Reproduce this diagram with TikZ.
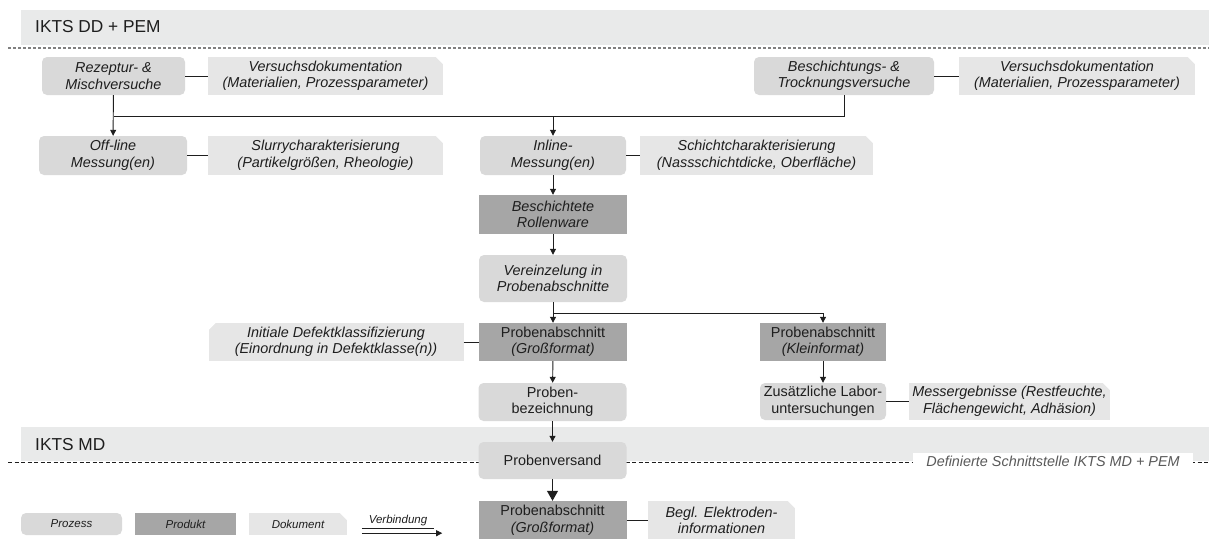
\documentclass[tikz,border=0pt]{standalone}
\usepackage{fontspec}
\setmainfont{Liberation Sans}
\usetikzlibrary{arrows.meta,positioning,calc}
\definecolor{ktsProc}{RGB}{217,217,217}
\definecolor{ktsProd}{RGB}{166,166,166}
\definecolor{ktsDoc}{RGB}{230,230,230}
\definecolor{ktsBand}{RGB}{233,234,234}
\definecolor{ktsText}{RGB}{30,30,30}
\definecolor{ktsLine}{RGB}{30,30,30}
\definecolor{ktsIface}{RGB}{90,90,90}

\begin{document}
\begin{tikzpicture}[x=1pt,y=-1pt,>={Triangle[length=6pt,width=6pt]},
  every node/.style={font=\fontsize{14.4}{16.5}\selectfont,text=ktsText,align=center,inner sep=0pt},
  itl/.style={font=\fontsize{14.4}{16.5}\selectfont\itshape},
  small/.style={font=\fontsize{11.5}{13}\selectfont\itshape},
  proc/.style={fill=ktsProc,rounded corners=5pt,minimum width=148pt,minimum height=39pt},
  prod/.style={fill=ktsProd,minimum width=148pt,minimum height=39pt},
  doc/.style={fill=ktsDoc,minimum height=39pt},
  link/.style={draw=ktsLine,line width=0.95pt}]
\useasboundingbox (0,0) rectangle (1209,538);
\fill[ktsBand] (21,10) rectangle (1209,45);
\fill[ktsBand] (21,427) rectangle (1209,461);
\draw[gray,line width=1.2pt,dash pattern=on 3pt off 2pt] (8,48) -- (1209,48);
\draw[ktsLine,line width=0.9pt,dash pattern=on 4pt off 2.5pt] (8,462) -- (1209,462);
\node[anchor=west,font=\fontsize{17.3}{20}\selectfont] (ddlab) at (35,27) {IKTS DD + PEM};
\node[anchor=west,font=\fontsize{17.3}{20}\selectfont] (mdlab) at (35,445) {IKTS MD};
\node[fill=white,text=ktsIface,font=\fontsize{14.4}{16}\selectfont\itshape,minimum width=280pt,minimum height=17pt] (iface) at (1053,461.5) {Definierte Schnittstelle IKTS MD + PEM};

\node[proc,itl,minimum width=143pt,minimum height=38pt] (rez) at (113.5,76) {Rezeptur- \&\\Mischversuche};
\node[doc,itl,minimum width=235pt,minimum height=38pt] (d1) at (325.5,76) {Versuchsdokumentation\\(Materialien, Prozessparameter)};
\node[proc,itl,minimum width=180pt,minimum height=38pt] (besch) at (844,76) {Beschichtungs- \&\\Trocknungsversuche};
\node[doc,itl,minimum width=236pt,minimum height=38pt] (d2) at (1077,76) {Versuchsdokumentation\\(Materialien, Prozessparameter)};
\node[proc,itl] (offl) at (113,155.5) {Off-line\\Messung(en)};
\node[doc,itl,minimum width=235pt] (d3) at (325.5,155.5) {Slurrycharakterisierung\\(Partikelgrößen, Rheologie)};
\node[proc,itl,minimum width=146pt] (inl) at (553,155.5) {Inline-\\Messung(en)};
\node[doc,itl,minimum width=233pt] (d4) at (756.5,155.5) {Schichtcharakterisierung\\(Nassschichtdicke, Oberfläche)};
\node[prod,itl] (roll) at (553,214.5) {Beschichtete\\Rollenware};
\node[proc,itl,minimum height=47pt] (vere) at (553,278.5) {Vereinzelung in\\Probenabschnitte};
\node[prod,minimum height=38pt] (gross) at (553,342) {Probenabschnitt\\\textit{(Großformat)}};
\node[prod,minimum width=126pt,minimum height=38pt] (klein) at (823,342) {Probenabschnitt\\\textit{(Kleinformat)}};
\node[doc,itl,minimum width=255pt,minimum height=38pt] (defekt) at (336,342) {Initiale Defektklassifizierung\\(Einordnung in Defektklasse(n))};
\node[proc,minimum height=38pt] (bez) at (552.5,402) {Proben-\\bezeichnung};
\node[proc,minimum width=126pt,minimum height=37pt] (labor) at (823,401.5) {Zusätzliche Labor-\\untersuchungen};
\node[doc,itl,minimum width=201pt,minimum height=37pt] (mess) at (1009.5,401.5) {Messergebnisse (Restfeuchte,\\Flächengewicht, Adhäsion)};
\node[proc,minimum height=37pt] (vers) at (552.5,460.5) {Probenversand};
\node[prod,minimum height=39pt] (gross2) at (552.5,520.5) {Probenabschnitt\\\textit{(Großformat)}};
\node[doc,itl,minimum width=147pt,minimum height=39pt] (begl) at (721.5,520.5) {Begl. Elektroden-\\informationen};

\node[proc,small,minimum width=101pt,minimum height=22pt] (lp) at (71.5,524) {Prozess};
\node[prod,small,minimum width=101pt,minimum height=22pt] (lr) at (185.5,524) {Produkt};
\node[doc,small,minimum width=98pt,minimum height=22pt] (ld) at (298,524) {Dokument};
\node[small,minimum width=72pt,minimum height=14pt] (lv) at (398,521) {Verbindung};

\foreach \n in {d1,d2,d3,d4,mess,begl,ld}
  \fill[white] ($(\n.north east)+(-8,-0.5)$) -- ($(\n.north east)+(0.5,-0.5)$) -- ($(\n.north east)+(0.5,8)$) -- cycle;
\fill[white] ($(defekt.north west)+(8,-0.5)$) -- ($(defekt.north west)+(-0.5,-0.5)$) -- ($(defekt.north west)+(-0.5,8)$) -- cycle;

\coordinate (splitA) at (0,116);
\coordinate (splitB) at (0,313);
\draw[link] (rez) -- (d1);
\draw[link] (besch) -- (d2);
\draw[link] (offl) -- (d3);
\draw[link] (inl) -- (d4);
\draw[link] (defekt) -- (gross);
\draw[link] (labor) -- (mess);
\draw[link] (gross2) -- (begl);
\draw[link,->] (rez) -- (offl);
\draw[link] (besch.south) |- (rez.south |- splitA);
\draw[link,->] (inl.north |- splitA) -- (inl.north);
\draw[link,->] (inl) -- (roll);
\draw[link,->] (roll) -- (vere);
\draw[link,->] (vere) -- (gross);
\draw[link,->] (vere.south |- splitB) -| (klein.north);
\draw[link,->] (gross) -- (bez);
\draw[link,->] (klein) -- (labor);
\draw[link,->] (bez) -- (vers);
\draw[link,-{Triangle[length=10pt,width=11pt]}] (vers) -- (gross2);
\draw[link,line width=0.8pt] (lv.south west) -- (lv.south east);
\draw[link,line width=0.8pt,->] ($(lv.south west)+(0,5)$) -- ($(lv.south east)+(8,5)$);
\end{tikzpicture}
\end{document}
